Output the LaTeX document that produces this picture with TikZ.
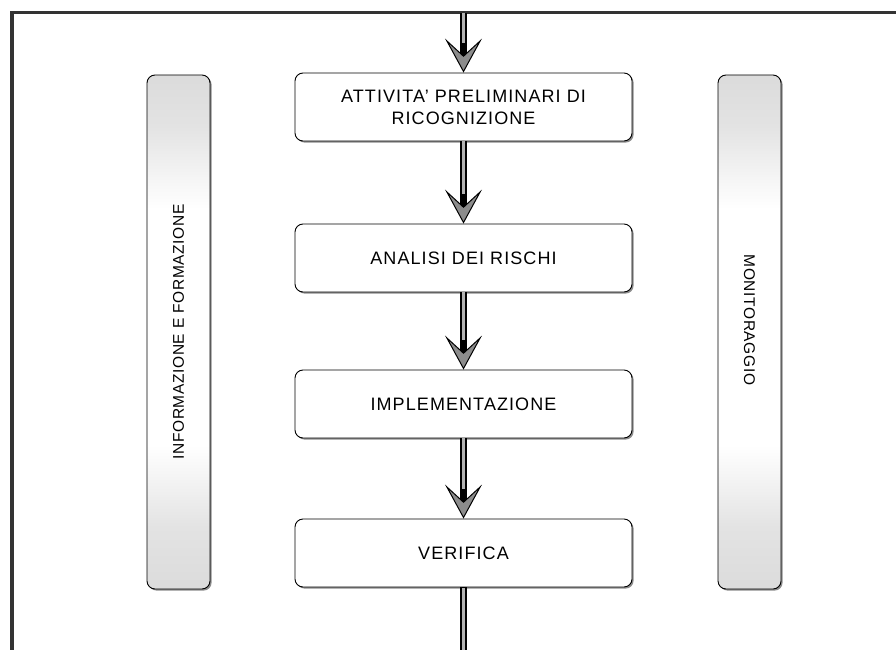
\documentclass[tikz,border=0pt]{standalone}
\usepackage{fontspec}
\setmainfont{Liberation Sans}[LetterSpace=6]
\newfontfamily\sidefont{Liberation Sans}[LetterSpace=4]
\usetikzlibrary{arrows.meta,shadows,positioning}
\pgfdeclareverticalshading{sideshade}{100bp}{color(0bp)=(black!14); color(25bp)=(black!14); color(31bp)=(black!11); color(36bp)=(black!4); color(39bp)=(white); color(62bp)=(white); color(65bp)=(black!4); color(70bp)=(black!11); color(75bp)=(black!14); color(100bp)=(black!14)}
\begin{document}
\begin{tikzpicture}[x=1pt,y=-1pt,
  framestyle/.style={draw=black!80},
  stepbox/.style={draw=black, line width=0.9pt, rounded corners=8pt, fill=white,
    minimum width=337pt, minimum height=68pt, align=center, inner sep=0pt,
    font=\fontsize{18}{22}\selectfont,
    drop shadow={shadow xshift=1.6pt, shadow yshift=-1.6pt, fill=black!45, opacity=1}},
  sidebox/.style={draw=black, line width=0.9pt, rounded corners=8pt,
    minimum width=63pt, minimum height=514pt, inner sep=0pt,
    shading=sideshade,
    drop shadow={shadow xshift=1.6pt, shadow yshift=-1.6pt, fill=black!45, opacity=1}},
  sidetext/.style={font=\sidefont\fontsize{15.5}{18}\selectfont},
  shaft/.style={draw=black, line width=6.5pt,
    -{Stealth[length=34pt,width=37pt,inset=17pt,line width=1pt,fill=black!45]}},
  shaftin/.style={draw=black!30, line width=3pt, shorten >=30pt},
  plainshaft/.style={draw=black, line width=6.5pt},
  plainshaftin/.style={draw=black!30, line width=3pt}
]
\useasboundingbox (0,0) rectangle (896,650);
% frame
\draw[framestyle, line width=3pt] (896,13) -- (10.5,13);
\draw[framestyle, line width=4.5pt] (12,11.5) -- (12,650);
\coordinate (start) at (463.5,13);
\coordinate (finish) at (463.5,650);
% central boxes
\node[stepbox] (b1) at (463.5,107) {ATTIVITA' PRELIMINARI DI\\RICOGNIZIONE};
\node[stepbox] (b2) at (463.5,258) {ANALISI DEI RISCHI};
\node[stepbox] (b3) at (463.5,404) {IMPLEMENTAZIONE};
\node[stepbox] (b4) at (463.5,553) {VERIFICA};
% side boxes
\node[sidebox] (left) at (178.5,332) {};
\node[sidebox] (right) at (749.5,332) {};
\node[sidetext, rotate=90] (lefttext) at (left.center) {INFORMAZIONE E FORMAZIONE};
\node[sidetext, rotate=-90] (righttext) at ([yshift=12pt]right.center) {MONITORAGGIO};
% arrows
\foreach \a/\b in {start/b1.north, b1.south/b2.north, b2.south/b3.north, b3.south/b4.north}{
  \draw[shaft] (\a) -- (\b);
  \draw[shaftin] (\a) -- (\b);
}
\draw[plainshaft] (b4.south) -- (finish);
\draw[plainshaftin] ([yshift=-1pt]b4.south) -- (finish);
\end{tikzpicture}
\end{document}
